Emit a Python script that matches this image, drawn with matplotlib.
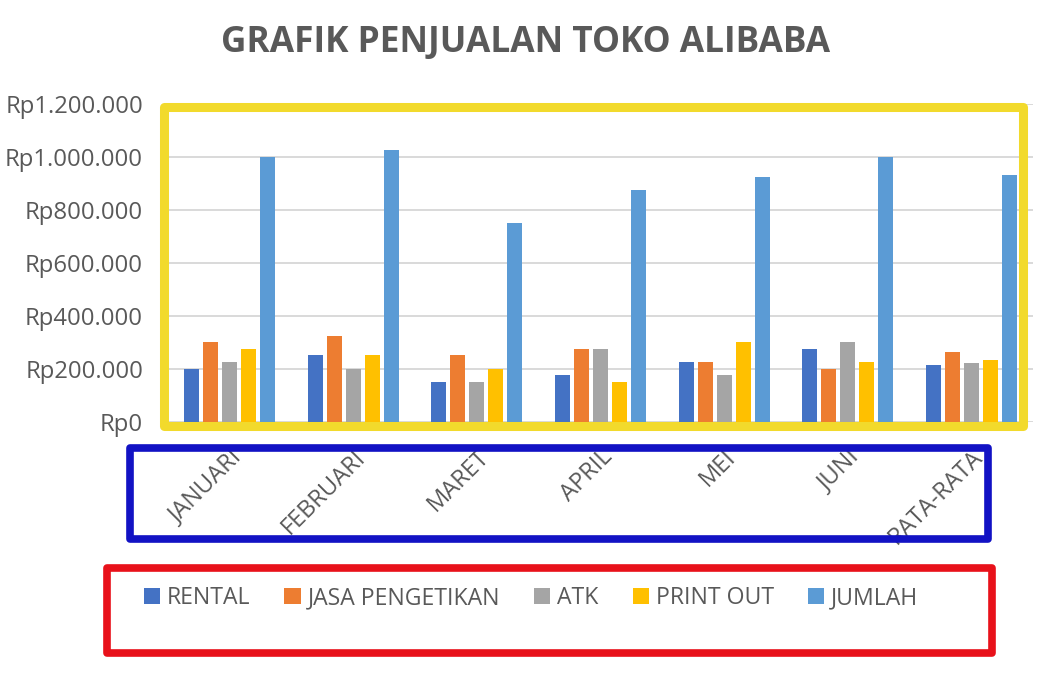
import numpy as np
import matplotlib
matplotlib.use("Agg")
import matplotlib.pyplot as plt
from matplotlib.patches import Rectangle
from matplotlib.ticker import FuncFormatter


# =========================================================
# 1. DATA
# =========================================================

months = ["JANUARI", "FEBRUARI", "MARET", "APRIL", "MEI", "JUNI", "RATA-RATA"]

rental = [200000, 250000, 150000, 175000, 225000, 275000, 212500]
jasa_pengetikan = [300000, 325000, 250000, 275000, 225000, 200000, 262500]
atk = [225000, 200000, 150000, 275000, 175000, 300000, 220833]
print_out = [275000, 250000, 200000, 150000, 300000, 225000, 233333]
jumlah = [1000000, 1025000, 750000, 875000, 925000, 1000000, 929167]

series_names = ["RENTAL", "JASA PENGETIKAN", "ATK", "PRINT OUT", "JUMLAH"]
series_colors = ["#4472C4", "#ED7D31", "#A5A5A5", "#FFC000", "#5B9BD5"]

y_ticks = [0, 200000, 400000, 600000, 800000, 1000000, 1200000]


# =========================================================
# 2. FIGURE SETUP
# =========================================================

plt.rcParams["font.family"] = ["Open Sans", "DejaVu Sans"]
TEXT_COLOR = "#595959"

W, H = 1042, 676
fig = plt.figure(figsize=(W / 100, H / 100), dpi=100)
fig.patch.set_facecolor("white")

ax = fig.add_axes([168 / W, 1 - 421.7 / H, (1033 - 168) / W, (421.7 - 103.7) / H])


# =========================================================
# 3. BARS
# =========================================================

x = np.arange(len(months))
bar_w = 15 / 123.5
pitch = 19 / 123.5

all_series = [rental, jasa_pengetikan, atk, print_out, jumlah]
for i, (vals, name, col) in enumerate(zip(all_series, series_names, series_colors)):
    ax.bar(x + (i - 2) * pitch, vals, width=bar_w, color=col, label=name, zorder=3)


# =========================================================
# 4. AXES STYLE
# =========================================================

ax.set_xlim(-0.5, len(months) - 0.5)
ax.set_ylim(0, 1200000)
ax.set_yticks(y_ticks)
ax.yaxis.set_major_formatter(
    FuncFormatter(lambda v, p: "Rp" + f"{int(v):,}".replace(",", "."))
)
ax.grid(axis="y", color="#D9D9D9", linewidth=1.4, zorder=0)
for s in ax.spines.values():
    s.set_visible(False)

ax.tick_params(axis="y", length=0, pad=18, labelsize=17.2, labelcolor=TEXT_COLOR)
ax.tick_params(axis="x", length=0, pad=17, labelsize=17, labelcolor=TEXT_COLOR)
ax.set_xticks(x)
ax.set_xticklabels(months, rotation=45, ha="right", va="top", rotation_mode="anchor")

fig.text(0.504, 1 - 43 / H, "GRAFIK PENJUALAN TOKO ALIBABA", ha="center", va="center",
         fontsize=25.4, fontweight="bold", color=TEXT_COLOR)


# =========================================================
# 5. LEGEND
# =========================================================

handles, labels = ax.get_legend_handles_labels()
fig.legend(handles, labels, loc="center", bbox_to_anchor=(531 / W, 1 - 598 / H),
           ncol=5, frameon=False, fontsize=16.6, labelcolor=TEXT_COLOR,
           handlelength=0.7, handleheight=0.7, handletextpad=0.3, columnspacing=1.48)


# =========================================================
# 6. HAND-DRAWN HIGHLIGHT BOXES
# =========================================================

def box(x0, y0, x1, y1, color, lw):
    r = Rectangle((x0 / W, 1 - y1 / H), (x1 - x0) / W, (y1 - y0) / H,
                  transform=fig.transFigure, fill=False, edgecolor=color,
                  linewidth=lw, joinstyle="round", zorder=10)
    fig.add_artist(r)


box(164, 107, 1023, 426, "#F2DA2C", 6.5)
box(130, 448, 988, 539, "#1212C4", 5.5)
box(107, 568, 992, 653, "#E8111A", 5.5)

plt.savefig("out.png", dpi=100)
